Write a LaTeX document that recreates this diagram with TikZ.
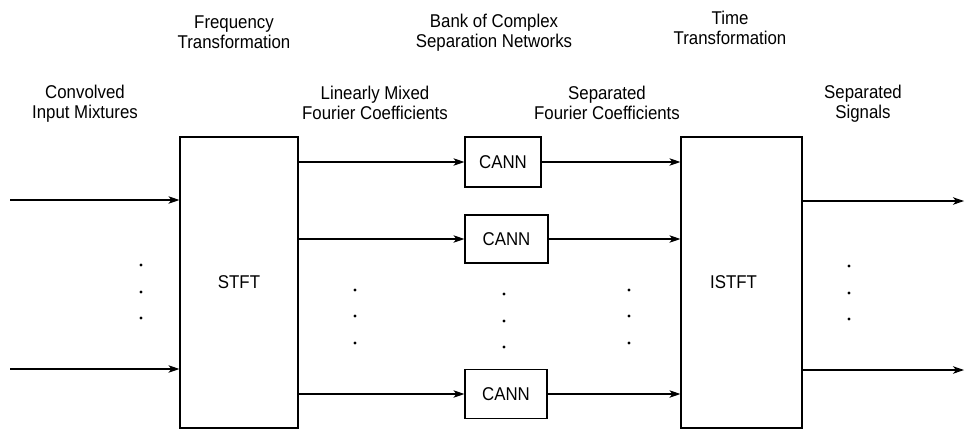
\documentclass[tikz,border=0pt]{standalone}
\usepackage{fontspec}
\setmainfont{Liberation Sans}[FakeStretch=0.91]
\usetikzlibrary{arrows.meta}
\begin{document}
\begin{tikzpicture}[x=1pt,y=-1pt,
  every node/.style={font=\fontsize{18.5}{20}\selectfont},
  block/.style={draw,line width=1.2pt,inner sep=0pt},
  lbl/.style={align=center,inner sep=0pt},
  sig/.style={line width=1.1pt,-{Stealth[length=11pt,width=7.5pt,inset=3pt]}},
  dotmark/.style={circle,fill,inner sep=0pt,minimum size=3.2pt}]
\useasboundingbox (0,0) rectangle (965,429);

% transform blocks
\node[block,minimum width=118pt,minimum height=291pt] (stft) at (239,282.5) {STFT};
\node[block,minimum width=121pt,minimum height=291pt] (istft) at (741.5,282.5) {\hspace*{-16pt}ISTFT};

% bank of complex separation networks
\node[block,minimum width=76pt,minimum height=50pt] (cann1) at (503,162) {CANN};
\node[block,minimum width=83pt,minimum height=48pt] (cann2) at (506.5,239) {CANN};
\node[block,minimum width=82pt,minimum height=49pt] (cann3) at (506,394) {CANN};

% free ends of the input and output signals
\coordinate (in1) at (10,200);
\coordinate (in2) at (10,369);
\coordinate (out1) at (964,201);
\coordinate (out2) at (964,370);

% input mixtures
\draw[sig] (in1) -- (in1 -| stft.west);
\draw[sig] (in2) -- (in2 -| stft.west);

% mixed Fourier coefficients into the networks
\draw[sig] (stft.east |- cann1) -- (cann1.west);
\draw[sig] (stft.east |- cann2) -- (cann2.west);
\draw[sig] (stft.east |- cann3) -- (cann3.west);

% separated coefficients into the inverse transform
\draw[sig] (cann1.east) -- (cann1.east -| istft.west);
\draw[sig] (cann2.east) -- (cann2.east -| istft.west);
\draw[sig] (cann3.east) -- (cann3.east -| istft.west);

% separated signals
\draw[sig] (istft.east |- out1) -- (out1);
\draw[sig] (istft.east |- out2) -- (out2);

% ellipses
\foreach \x/\ya/\yb/\yc in {141/265/292/318, 355/290/316/343, 504/294/321/347, 629/290/316/343, 849/266/293/319}
  \foreach \y in {\ya,\yb,\yc}
    \node[dotmark] at (\x,\y) {};

% captions
\node[lbl] (capfreq) at (234,32) {Frequency\\Transformation};
\node[lbl] (capbank) at (494,33) {Bank of Complex\\Separation Networks};
\node[lbl] (captime) at (730,28) {Time\\Transformation};
\node[lbl] (capin) at (85,104) {Convolved\\Input Mixtures};
\node[lbl] (capmix) at (375,103) {Linearly Mixed\\Fourier Coefficients};
\node[lbl] (capsep) at (607,103) {Separated\\Fourier Coefficients};
\node[lbl] (capout) at (863,104) {Separated\\Signals};
\end{tikzpicture}
\end{document}
